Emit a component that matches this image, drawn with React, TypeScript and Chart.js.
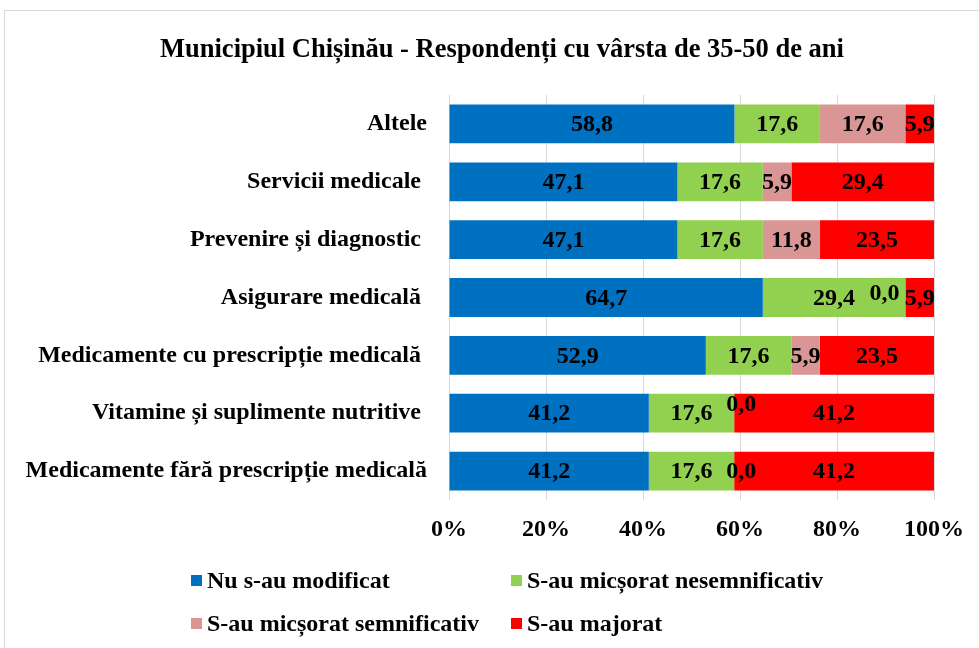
import React, { useEffect, useRef } from "react";
import { Chart, registerables } from "chart.js";

Chart.register(...registerables);

const titleText = "Municipiul Chișinău - Respondenți cu vârsta de 35-50 de ani";

const categories = [
  "Altele",
  "Servicii medicale ",
  "Prevenire și diagnostic ",
  "Asigurare medicală ",
  "Medicamente cu prescripție medicală ",
  "Vitamine și suplimente nutritive ",
  "Medicamente fără prescripție medicală",
];

const seriesNames = [
  "Nu s-au modificat",
  "S-au micșorat nesemnificativ",
  "S-au micșorat semnificativ",
  "S-au majorat",
];

const nuModificat = [58.8, 47.1, 47.1, 64.7, 52.9, 41.2, 41.2];
const micsoratNesemnificativ = [17.6, 17.6, 17.6, 29.4, 17.6, 17.6, 17.6];
const micsoratSemnificativ = [17.6, 5.9, 11.8, 0.0, 5.9, 0.0, 0.0];
const majorat = [5.9, 29.4, 23.5, 5.9, 23.5, 41.2, 41.2];

const xTicks = [0, 20, 40, 60, 80, 100];

const colors = ["#0070C0", "#92D050", "#DA9694", "#FF0000"];

const FONT = "'Liberation Serif', 'Times New Roman', serif";
const FS = 24;

// small nudges for overlapping "0,0" labels (category index -> [dx, dy])
const zeroNudge: Record<number, [number, number]> = {
  3: [-21, -5],
  5: [7, -9],
  6: [7, 0],
};

const rawSeries = [nuModificat, micsoratNesemnificativ, micsoratSemnificativ, majorat];

export default function App() {
  const ref = useRef<HTMLCanvasElement | null>(null);

  useEffect(() => {
    if (!ref.current) return;
    const sums = categories.map((_, i) =>
      rawSeries.reduce((s, arr) => s + arr[i], 0)
    );

    const labelPlugin = {
      id: "segLabels",
      afterDatasetsDraw(chart: any) {
        const ctx = chart.ctx;
        ctx.save();
        ctx.font = `bold ${FS}px ${FONT}`;
        ctx.fillStyle = "#000";
        ctx.textAlign = "center";
        ctx.textBaseline = "middle";
        chart.data.datasets.forEach((ds: any, di: number) => {
          const meta = chart.getDatasetMeta(di);
          meta.data.forEach((el: any, i: number) => {
            const raw = ds.raw[i];
            let x = (el.x + el.base) / 2;
            let y = el.y;
            if (raw === 0 && zeroNudge[i]) {
              x += zeroNudge[i][0];
              y += zeroNudge[i][1];
            }
            ctx.fillText(raw.toFixed(1).replace(".", ","), x, y + 1);
          });
        });
        ctx.restore();
      },
    };

    const chart = new Chart(ref.current, {
      type: "bar",
      data: {
        labels: categories,
        datasets: rawSeries.map((arr, k) => ({
          label: seriesNames[k],
          data: arr.map((v, i) => (v / sums[i]) * 100),
          raw: arr,
          backgroundColor: colors[k],
          borderWidth: 0,
          categoryPercentage: 1,
          barPercentage: 0.67,
        })) as any,
      },
      options: {
        indexAxis: "y",
        responsive: false,
        animation: false,
        layout: { padding: { top: 95, right: 44, left: 0, bottom: 0 } },
        plugins: {
          legend: { display: false },
          title: { display: false },
          tooltip: { enabled: false },
        },
        scales: {
          x: {
            stacked: true,
            min: 0,
            max: 100,
            afterBuildTicks: (scale: any) => {
              scale.ticks = xTicks.map((v) => ({ value: v }));
            },
            afterFit: (scale: any) => {
              scale.height = 148;
            },
            ticks: {
              padding: 15,
              color: "#000",
              font: { family: FONT, size: FS, weight: "bold" },
              callback: (v: any) => v + "%",
            },
            grid: { color: "#D9D9D9", lineWidth: 1, drawTicks: false },
            border: { display: false },
          },
          y: {
            stacked: true,
            afterFit: (scale: any) => {
              scale.width = 449;
            },
            ticks: {
              padding: 22,
              color: "#000",
              font: { family: FONT, size: FS, weight: "bold" },
            },
            grid: { display: false, drawTicks: false },
            border: { display: false },
          },
        },
      },
      plugins: [labelPlugin],
    });
    return () => chart.destroy();
  }, []);

  const legendItems = [
    { name: seriesNames[0], color: colors[0], left: 191, top: 580 },
    { name: seriesNames[1], color: colors[1], left: 511, top: 580 },
    { name: seriesNames[2], color: colors[2], left: 191, top: 623 },
    { name: seriesNames[3], color: colors[3], left: 511, top: 623 },
  ];

  return (
    <div
      style={{
        position: "absolute",
        left: 0,
        top: 0,
        width: 979,
        height: 648,
        overflow: "hidden",
        background: "#fff",
      }}
    >
      <div
        style={{
          position: "absolute",
          left: 4,
          top: 10,
          width: 1000,
          height: 700,
          border: "1px solid #D9D9D9",
          boxSizing: "border-box",
        }}
      />
      <canvas
        ref={ref}
        width={979}
        height={648}
        style={{ position: "absolute", left: 0, top: 0, width: 979, height: 648 }}
      />
      <div
        style={{
          position: "absolute",
          left: 0,
          top: 32,
          width: 1004,
          textAlign: "center",
          fontFamily: FONT,
          fontWeight: "bold",
          fontSize: 26.5,
          lineHeight: "32px",
          color: "#000",
          whiteSpace: "nowrap",
        }}
      >
        {titleText}
      </div>
      {legendItems.map((it) => (
        <div
          key={it.name}
          style={{
            position: "absolute",
            left: it.left,
            top: it.top - 15,
            height: 30,
            display: "flex",
            alignItems: "center",
            fontFamily: FONT,
            fontWeight: "bold",
            fontSize: FS,
            color: "#000",
            whiteSpace: "nowrap",
          }}
        >
          <span
            style={{
              display: "inline-block",
              width: 11,
              height: 11,
              background: it.color,
              marginRight: 5,
            }}
          />
          <span>{it.name}</span>
        </div>
      ))}
    </div>
  );
}
